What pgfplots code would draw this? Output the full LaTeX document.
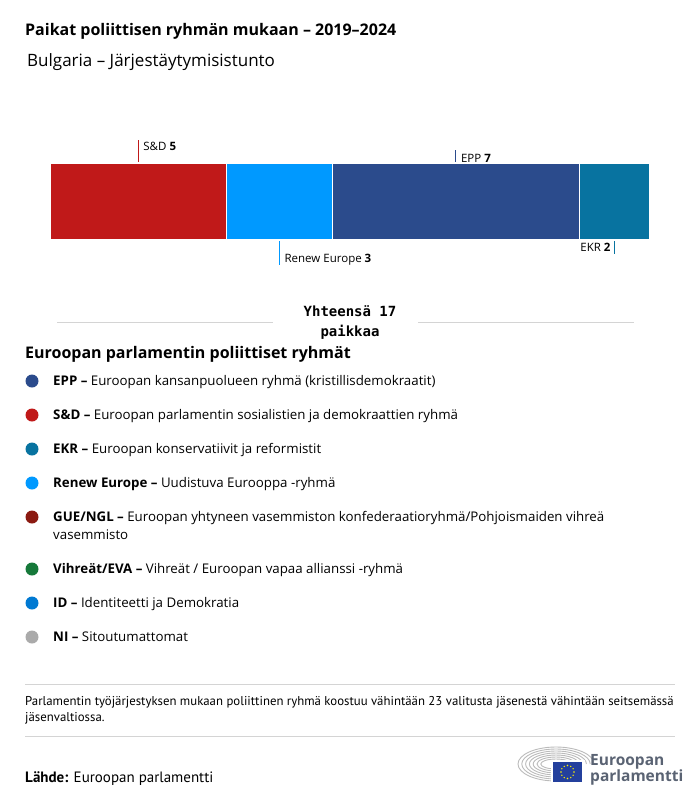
\documentclass[border=0pt]{standalone}
\usepackage{pgfplots}
\pgfplotsset{compat=1.18}
\usepackage{fontspec}
\setmainfont{Open Sans}
\newfontfamily\monofont{DejaVu Sans Mono}
\newfontfamily\narrowfont{PT Sans}

\definecolor{epp}{HTML}{2B4B8C}
\definecolor{sd}{HTML}{C01919}
\definecolor{ekr}{HTML}{0873A0}
\definecolor{renew}{HTML}{0099FF}
\definecolor{gue}{HTML}{8B1A11}
\definecolor{greens}{HTML}{16793A}
\definecolor{idc}{HTML}{0079D2}
\definecolor{ni}{HTML}{AAAAAA}
\definecolor{rule}{HTML}{D4D4D4}
\definecolor{logotext}{HTML}{5A6373}

\begin{document}
\begin{tikzpicture}[x=1pt,y=-1pt]
\fill[white] (0,0) rectangle (700,804);
\useasboundingbox (0,0) rectangle (700,804);

% titles
\node[anchor=base west, inner sep=0, font=\fontsize{16}{19}\selectfont\bfseries] at (25,35) {Paikat poliittisen ryhmän mukaan – 2019–2024};
\node[anchor=base west, inner sep=0, font=\fontsize{17}{20}\selectfont] at (27,66) {Bulgaria – Järjestäytymisistunto};

% stacked bar
\begin{axis}[at={(50pt,-240pt)}, anchor=south west, scale only axis,
    width=600pt, height=77pt, xmin=0, xmax=17, ymin=0, ymax=1,
    hide axis, xbar stacked, bar width=77pt, bar shift=0pt, clip=false]
\addplot[fill=sd, draw=white, line width=1.2pt] coordinates {(5,0.5)};
\addplot[fill=renew, draw=white, line width=1.2pt] coordinates {(3,0.5)};
\addplot[fill=epp, draw=white, line width=1.2pt] coordinates {(7,0.5)};
\addplot[fill=ekr, draw=white, line width=1.2pt] coordinates {(2,0.5)};

\draw[sd, line width=0.8pt] (axis cs:2.5,1) -- ++(0pt,23pt);
\node[anchor=base west, inner sep=0, xshift=5pt, yshift=13pt, font=\fontsize{11.5}{13}\selectfont] at (axis cs:2.5,1) {S\&D \textbf{5}};
\draw[epp, line width=0.8pt] (axis cs:11.5,1) -- ++(0pt,13pt);
\node[anchor=base west, inner sep=0, xshift=5pt, yshift=1pt, font=\fontsize{11.5}{13}\selectfont] at (axis cs:11.5,1) {EPP \textbf{7}};
\draw[renew, line width=0.8pt] (axis cs:6.5,0) -- ++(0pt,-25pt);
\node[anchor=base west, inner sep=0, xshift=5pt, yshift=-22pt, font=\fontsize{11.5}{13}\selectfont] at (axis cs:6.5,0) {Renew Europe \textbf{3}};
\draw[ekr, line width=0.8pt] (axis cs:16,0) -- ++(0pt,-14pt);
\node[anchor=base east, inner sep=0, xshift=-4pt, yshift=-11pt, font=\fontsize{11.5}{13}\selectfont] at (axis cs:16,0) {EKR \textbf{2}};
\end{axis}

% total
\draw[rule, line width=0.8pt] (57,322) -- (273,322);
\draw[rule, line width=0.8pt] (418,322) -- (634,322);
\node[anchor=base, inner sep=0, font=\monofont\fontsize{14}{16}\selectfont\bfseries] at (350,316) {Yhteensä 17};
\node[anchor=base, inner sep=0, font=\monofont\fontsize{14}{16}\selectfont\bfseries] at (350,336) {paikkaa};

% legend
\node[anchor=base west, inner sep=0, font=\fontsize{16}{19}\selectfont\bfseries] at (25,358) {Euroopan parlamentin poliittiset ryhmät};
\begin{scope}[every node/.style={anchor=base west, inner sep=0, font=\fontsize{13.3}{17}\selectfont}]
\fill[epp] (32,381) circle (6.5);
\node at (53,385) {\textbf{EPP –} Euroopan kansanpuolueen ryhmä (kristillisdemokraatit)};
\fill[sd] (32,415) circle (6.5);
\node at (53,419) {\textbf{S\&D –} Euroopan parlamentin sosialistien ja demokraattien ryhmä};
\fill[ekr] (32,449) circle (6.5);
\node at (53,453) {\textbf{EKR –} Euroopan konservatiivit ja reformistit};
\fill[renew] (32,483) circle (6.5);
\node at (53,487) {\textbf{Renew Europe –} Uudistuva Eurooppa -ryhmä};
\fill[gue] (32,517) circle (6.5);
\node at (53,521) {\textbf{GUE/NGL –} Euroopan yhtyneen vasemmiston konfederaatioryhmä/Pohjoismaiden vihreä};
\node at (53,539) {vasemmisto};
\fill[greens] (32,569) circle (6.5);
\node at (53,573) {\textbf{Vihreät/EVA –} Vihreät / Euroopan vapaa allianssi -ryhmä};
\fill[idc] (32,603) circle (6.5);
\node at (53,607) {\textbf{ID –} Identiteetti ja Demokratia};
\fill[ni] (32,637) circle (6.5);
\node at (53,641) {\textbf{NI –} Sitoutumattomat};
\end{scope}

% footnote
\draw[rule, line width=0.8pt] (25,684) -- (675,684);
\node[anchor=base west, inner sep=0, font=\narrowfont\fontsize{12.8}{14}\selectfont] at (25,705) {Parlamentin työjärjestyksen mukaan poliittinen ryhmä koostuu vähintään 23 valitusta jäsenestä vähintään seitsemässä};
\node[anchor=base west, inner sep=0, font=\narrowfont\fontsize{12.8}{14}\selectfont] at (25,721) {jäsenvaltiossa.};
\draw[rule, line width=0.8pt] (25,736) -- (675,736);
\node[anchor=base west, inner sep=0, font=\narrowfont\fontsize{15}{17}\selectfont] at (25,782) {\textbf{Lähde:} Euroopan parlamentti};

% logo
\foreach \r in {0,...,6} {
  \draw[ni!80, line width=0.9pt] ([shift={(0:{38-\r*3.8} and {17-\r*2})}]556,764) arc[start angle=0, end angle=-270, x radius={38-\r*3.8}, y radius={17-\r*2}];
}
\fill[white] (551,760) rectangle (585,785);
\fill[epp!85!blue] (553,762) rectangle (582,782);
\foreach \a in {0,30,...,330} {
  \fill[yellow] (567.5,772) ++(\a:6.5) circle (0.8);
}
\node[anchor=base west, inner sep=0, text=logotext, font=\fontsize{15.5}{19}\selectfont\bfseries] at (590,765) {Euroopan};
\node[anchor=base west, inner sep=0, text=logotext, font=\fontsize{15.5}{19}\selectfont\bfseries] at (590,781) {parlamentti};
\end{tikzpicture}
\end{document}
